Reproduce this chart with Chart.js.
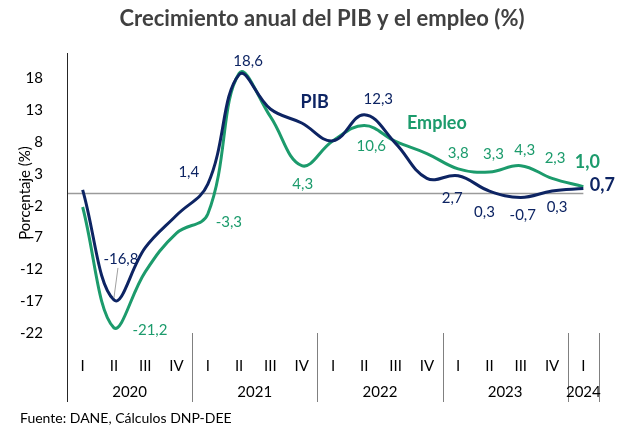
<!DOCTYPE html>
<html>
<head>
<meta charset="utf-8">
<script src="https://cdn.jsdelivr.net/npm/chart.js@4.4.1/dist/chart.umd.min.js"></script>
<style>
  html, body { margin: 0; padding: 0; background: #fff; }
  #wrap { width: 626px; height: 428px; position: relative; }
</style>
</head>
<body>
<div id="wrap"><canvas id="chart"></canvas></div>
<script>
const quarters = ["I", "II", "III", "IV", "I", "II", "III", "IV", "I", "II", "III", "IV", "I", "II", "III", "IV", "I"];
const years = ["2020", "2021", "2022", "2023", "2024"];
const quartersPerYear = [4, 4, 4, 4, 1];

const pib = [0.5, -16.8, -8.6, -3.5, 1.4, 18.6, 13.2, 11.0, 8.2, 12.3, 7.8, 2.3, 2.7, 0.3, -0.7, 0.3, 0.7];
const empleo = [-2.2, -21.2, -12.4, -6.3, -3.3, 18.8, 12.0, 4.3, 8.2, 10.6, 8.1, 6.2, 3.8, 3.3, 4.3, 2.3, 1.0];

const yTicks = [-22, -17, -12, -7, -2, 3, 8, 13, 18];

const navy = "#0d2463";
const green = "#1c9b6c";

// where each value label sits, relative to its point (dx, dy)
const pibLabelPos = {
  1: [7, -41], 4: [-19, -12], 5: [9, -13], 9: [14, -16],
  12: [-6, 22], 13: [-5, 21], 14: [2, 18], 15: [5, 16], 16: [19, -3]
};
const empleoLabelPos = {
  1: [36, 2], 4: [21, 8], 7: [1, 19], 9: [7, 21],
  12: [0, -16], 13: [4, -18], 14: [4, -15], 15: [3, -20], 16: [4, -24]
};

const fmt = v => v.toFixed(1).replace(".", ",");

const decorations = {
  id: "decorations",
  beforeDatasetsDraw(chart) {
    const { ctx, chartArea, scales: { x, y } } = chart;
    // gray line at zero
    const y0 = Math.round(y.getPixelForValue(0)) + 0.5;
    ctx.save();
    ctx.strokeStyle = "#9a9a9a";
    ctx.lineWidth = 1.5;
    ctx.beginPath();
    ctx.moveTo(chartArea.left, y0);
    ctx.lineTo(x.getPixelForValue(quarters.length - 1), y0);
    ctx.stroke();
    ctx.restore();
  },
  afterDatasetsDraw(chart) {
    const { ctx, scales: { x, y } } = chart;
    ctx.save();
    ctx.textAlign = "center";
    ctx.textBaseline = "middle";

    const drawLabels = (values, pos, color) => {
      Object.keys(pos).forEach(k => {
        const i = Number(k);
        const px = x.getPixelForValue(i);
        const py = y.getPixelForValue(values[i]);
        const last = i === values.length - 1;
        ctx.font = last ? "bold 18px Lato" : "15px Lato";
        ctx.fillStyle = color;
        ctx.fillText(fmt(values[i]), px + pos[k][0], py + pos[k][1]);
      });
    };
    drawLabels(pib, pibLabelPos, navy);
    drawLabels(empleo, empleoLabelPos, green);

    // leader line for the PIB low
    const lx = x.getPixelForValue(1), ly = y.getPixelForValue(pib[1]);
    ctx.strokeStyle = "#a0a0a0";
    ctx.lineWidth = 1;
    ctx.beginPath();
    ctx.moveTo(lx + pibLabelPos[1][0] - 3, ly + pibLabelPos[1][1] + 9);
    ctx.lineTo(lx, ly - 2);
    ctx.stroke();

    // series names
    ctx.font = "bold 18px Lato";
    ctx.fillStyle = navy;
    ctx.fillText("PIB", x.getPixelForValue(7) + 13, y.getPixelForValue(14.2));
    ctx.fillStyle = green;
    ctx.fillText("Empleo", x.getPixelForValue(11) + 10, y.getPixelForValue(11));
    ctx.restore();
  },
  afterDraw(chart) {
    const { ctx, chartArea, scales: { x } } = chart;
    const half = (x.getPixelForValue(1) - x.getPixelForValue(0)) / 2;
    const axisBottom = chartArea.bottom + 69;
    ctx.save();

    // y axis line, running down through the category area
    const ax = Math.round(chartArea.left) + 0.5;
    ctx.strokeStyle = "#262626";
    ctx.lineWidth = 1;
    ctx.beginPath();
    ctx.moveTo(ax, chartArea.top);
    ctx.lineTo(ax, axisBottom);
    ctx.stroke();

    // year separators and year labels
    ctx.strokeStyle = "#808080";
    ctx.fillStyle = "#000";
    ctx.font = "15px Lato";
    ctx.textAlign = "center";
    ctx.textBaseline = "middle";
    let start = 0;
    years.forEach((yr, j) => {
      const end = start + quartersPerYear[j] - 1;
      const sx = Math.round(x.getPixelForValue(end) + half) + 0.5;
      ctx.beginPath();
      ctx.moveTo(sx, chartArea.bottom);
      ctx.lineTo(sx, axisBottom);
      ctx.stroke();
      const cx = (x.getPixelForValue(start) + x.getPixelForValue(end)) / 2;
      ctx.fillText(yr, cx, chartArea.bottom + 59);
      start = end + 1;
    });

    // title and source
    ctx.fillStyle = "#404040";
    ctx.font = "bold 22px Lato";
    ctx.fillText("Crecimiento anual del PIB y el empleo (%)", 322, 19);
    ctx.fillStyle = "#000";
    ctx.font = "14px Lato";
    ctx.textAlign = "left";
    ctx.fillText("Fuente: DANE, Cálculos DNP-DEE", 20, 418);
    ctx.restore();
  }
};

new Chart(document.getElementById("chart"), {
  type: "line",
  data: {
    labels: quarters,
    datasets: [
      {
        label: "PIB",
        data: pib,
        borderColor: navy,
        borderWidth: 3,
        pointRadius: 0,
        tension: 0.4,
        fill: false
      },
      {
        label: "Empleo",
        data: empleo,
        borderColor: green,
        borderWidth: 3,
        pointRadius: 0,
        tension: 0.4,
        fill: false
      }
    ]
  },
  options: {
    responsive: true,
    maintainAspectRatio: false,
    animation: false,
    layout: { padding: { top: 53, right: 27, bottom: 0, left: 0 } },
    plugins: {
      legend: { display: false },
      tooltip: { enabled: false }
    },
    scales: {
      x: {
        offset: true,
        grid: { display: false },
        border: { display: false },
        ticks: {
          color: "#000",
          font: { family: "Lato", size: 15 },
          padding: 16,
          maxRotation: 0,
          autoSkip: false
        },
        afterFit: s => { s.height = 95; }
      },
      y: {
        min: -22,
        max: 22,
        grid: { display: false },
        border: { display: false },
        afterBuildTicks: s => { s.ticks = yTicks.map(v => ({ value: v })); },
        ticks: {
          color: "#000",
          font: { family: "Lato", size: 15 },
          padding: 16
        },
        title: {
          display: true,
          text: "Porcentaje (%)",
          color: "#000",
          font: { family: "Lato", size: 15 },
          padding: { top: 16, bottom: 0 }
        },
        afterFit: s => { s.width = 67; }
      }
    }
  },
  plugins: [decorations]
});
</script>
</body>
</html>
